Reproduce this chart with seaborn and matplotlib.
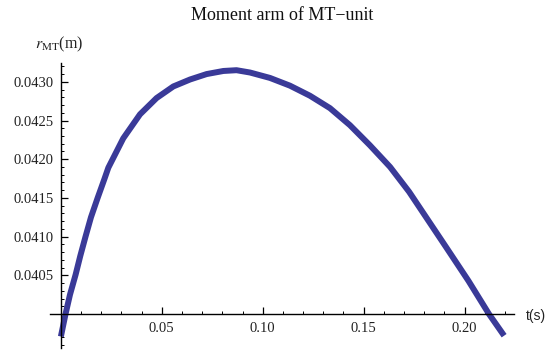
import matplotlib
matplotlib.use("Agg")
import matplotlib.pyplot as plt
import seaborn as sns
import numpy as np
import pandas as pd
from matplotlib.ticker import MultipleLocator, FixedLocator, FormatStrFormatter

# Data
t_s = [0.0, 0.0023, 0.0045, 0.0073, 0.0096, 0.0122, 0.0149, 0.0182, 0.0215,
       0.0235, 0.0309, 0.0392, 0.0474, 0.0557, 0.0640, 0.0722, 0.0805, 0.0870,
       0.0937, 0.1036, 0.1135, 0.1234, 0.1333, 0.1432, 0.1531, 0.1631, 0.1725,
       0.1907, 0.2019, 0.2121, 0.2196]
r_mt = [0.03971, 0.04000, 0.04025, 0.04051, 0.04075, 0.04100, 0.04125, 0.04150,
        0.04174, 0.04189, 0.04227, 0.04258, 0.04279, 0.04294, 0.04303, 0.04310,
        0.04314, 0.04315, 0.04312, 0.04305, 0.04295, 0.04282, 0.04266, 0.04244,
        0.04218, 0.04190, 0.04158, 0.04087, 0.04043, 0.04000, 0.03972]
x_ticks = [0.05, 0.10, 0.15, 0.20]
y_ticks = [0.0405, 0.0410, 0.0415, 0.0420, 0.0425, 0.0430]

df = pd.DataFrame({"t": t_s, "r": r_mt})

sns.set_theme(style="white")
plt.rcParams['font.family'] = ['Liberation Serif', 'DejaVu Serif']
plt.rcParams['mathtext.fontset'] = 'stix'

fig = plt.figure(figsize=(5.5, 3.5), dpi=100)
ax = fig.add_axes([50/550, 1-348/350, (514-50)/550, (348-63)/350])

sns.lineplot(data=df, x="t", y="r", ax=ax, color="#3a3a98", linewidth=4.3,
             solid_capstyle="butt", solid_joinstyle="round", sort=False)

ax.set_xlim(-0.0054, 0.2245)
ax.set_ylim(0.039561, 0.043243)

for s in ["top", "right"]:
    ax.spines[s].set_visible(False)
ax.spines["left"].set_position(("data", 0))
ax.spines["bottom"].set_position(("data", 0.04))
for s in ["left", "bottom"]:
    ax.spines[s].set_color("black")
    ax.spines[s].set_linewidth(1.0)

ax.xaxis.set_major_locator(FixedLocator(x_ticks))
ax.yaxis.set_major_locator(FixedLocator(y_ticks))
ax.xaxis.set_major_formatter(FormatStrFormatter("%.2f"))
ax.yaxis.set_major_formatter(FormatStrFormatter("%.4f"))
ax.xaxis.set_minor_locator(MultipleLocator(0.01))
ax.yaxis.set_minor_locator(MultipleLocator(0.0001))

ax.tick_params(axis="both", which="major", direction="in", length=5, width=0.9,
               colors="black", labelsize=10.5, labelcolor="#222222")
ax.tick_params(axis="both", which="minor", direction="in", length=2.5, width=0.7,
               colors="black")
ax.tick_params(axis="x", which="major", pad=6)
ax.tick_params(axis="y", which="major", pad=5)
ax.tick_params(left=True, bottom=True, which="both")

ax.set_xlabel("")
ax.set_ylabel("")
ax.grid(False)

fig.text(282/550, 1-15/350, "Moment arm of MT\u2212unit", ha="center", va="center",
         fontsize=13, color="#111111")
fig.text(35/550, 1-44/350, r"$r_{\mathrm{MT}}$(m)", ha="left", va="center",
         fontsize=11.5, color="#222222")
fig.text(526/550, 1-316/350, "t(s)", ha="left", va="center",
         fontsize=10, color="#222222", family=["Liberation Sans", "DejaVu Sans"])

fig.savefig("out.png", dpi=100, facecolor="white")
